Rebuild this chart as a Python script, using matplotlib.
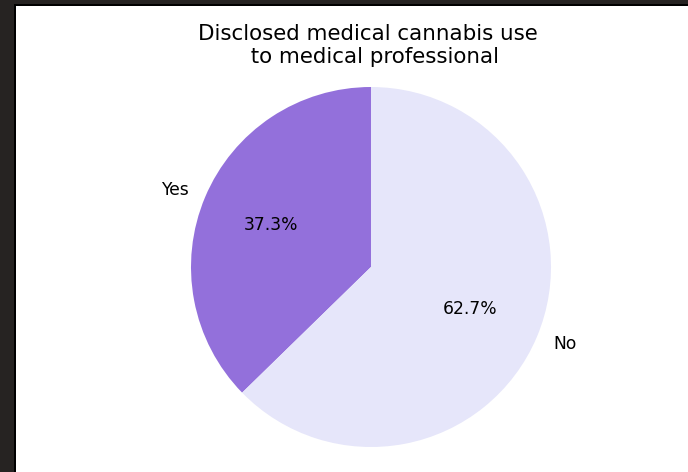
import matplotlib.pyplot as plt
from matplotlib.patches import Rectangle

labels = ['Yes', 'No']
shares = [37.3, 62.7]
colors = ['mediumpurple', 'lavender']

fig = plt.figure(figsize=(6.88, 4.72), dpi=100, facecolor='#262322')
# white notebook cell area (screenshot has a dark frame on left and top)
fig.patches.append(Rectangle((14/688, 0), 1, 1 - 4/472,
                             transform=fig.transFigure, facecolor='black',
                             edgecolor='none', zorder=-2))
fig.patches.append(Rectangle((16/688, 0), 1, 1 - 6/472,
                             transform=fig.transFigure, facecolor='white',
                             edgecolor='none', zorder=-1))

ax = fig.add_axes([191/688, 25/472, 360/688, 360/472])
ax.pie(shares, labels=labels, colors=colors, autopct='%1.1f%%',
       startangle=90, textprops={'fontsize': 12.3})
ax.set_xlim(-1, 1)
ax.set_ylim(-1, 1)
ax.set_aspect('equal')
ax.set_title('Disclosed medical cannabis use \n to medical professional',
             fontsize=15.4, pad=17)

fig.savefig('out.png', dpi=100, facecolor=fig.get_facecolor())
